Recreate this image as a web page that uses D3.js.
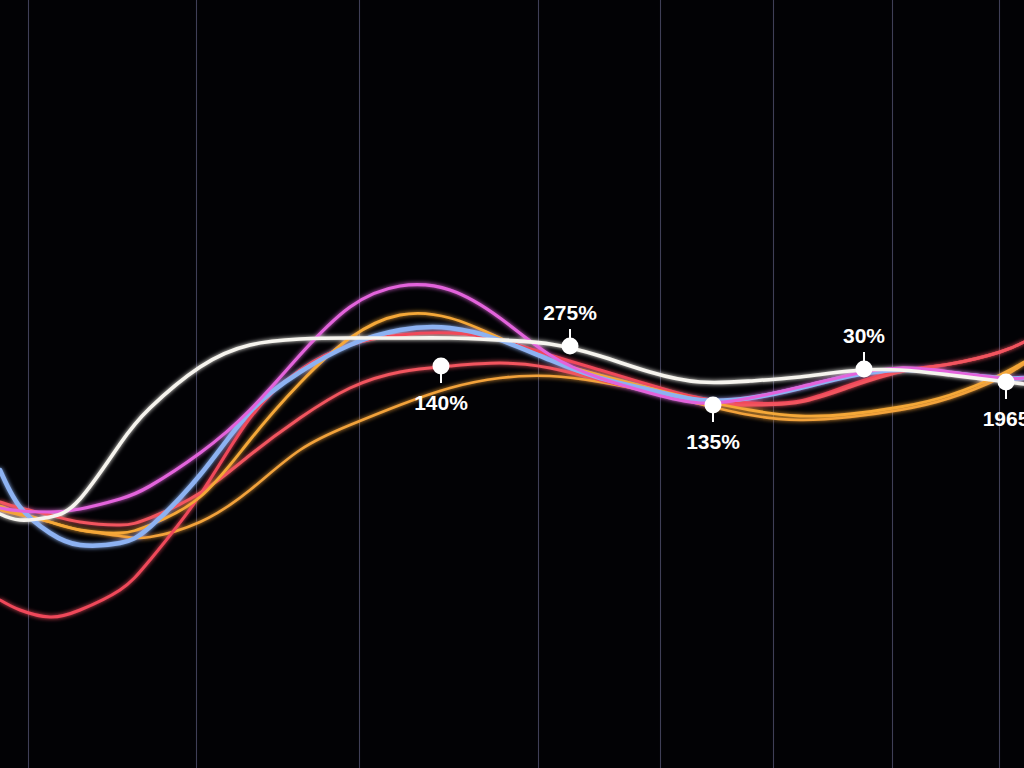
<!DOCTYPE html>
<html>
<head>
<meta charset="utf-8">
<script src="https://cdn.jsdelivr.net/npm/d3@7"></script>
<style>
  html, body { margin: 0; padding: 0; background: #000; overflow: hidden; }
  svg { display: block; }
</style>
</head>
<body>
<svg id="chart" width="1024" height="768"></svg>
<script>
// ---- data ----
const xs = [0, 2, 5, 8, 12, 15, 20, 25, 30, 35, 40, 45, 50, 55, 60, 65, 70, 75, 80, 85, 90, 95, 100, 102.4];

const redLow   = [20, 18, 16.6, 18, 22, 28, 41, 56.4, 66, 71, 73, 73.4, 72, 69, 66, 63, 60.4, 59.4, 59.8, 63, 65.8, 67.2, 69.6, 71.6];
const redMid   = [39.6, 38.4, 37, 35.6, 35, 36.4, 41.4, 49, 56.4, 62.4, 65.6, 66.8, 67.4, 66.4, 64, 61.6, 59.4, 59, 59.6, 62.6, 65.6, 67.2, 69.6, 71.6];
const orangeLow = [38, 37, 35.6, 34, 32.8, 32.6, 35.6, 42, 50, 55, 59, 62.4, 64.4, 64.8, 63.6, 61.6, 59.2, 57, 56, 56.6, 58, 60.4, 64.4, 67.2];
const orangeHigh = [38.8, 37.4, 35.6, 34, 33.4, 35, 40.6, 52, 63.4, 72.4, 77, 76.4, 72.4, 68, 65, 62.4, 60, 58, 56.8, 57.2, 58.6, 61, 65, 67.6];
const blue     = [46, 38.6, 33.4, 31, 31.4, 34.6, 45, 57.6, 65.6, 71, 74, 74.4, 72, 68, 64.4, 62, 60, 60.4, 62.4, 64.8, 66, 65.4, 64.4, 64.4];
const magenta  = [38.4, 37.8, 37.6, 38.2, 40.2, 42.8, 49.4, 58, 69, 78.6, 82.8, 82, 76.4, 69, 64.4, 61.4, 59.4, 60.4, 62.6, 65, 66.4, 65.6, 64.4, 64.4];
const white    = [37.2, 36, 36.6, 40.2, 51.2, 58.4, 66.6, 71, 72.2, 72.4, 72.4, 72.4, 72, 71.2, 68.8, 65.6, 63.6, 63.8, 64.6, 65.8, 66, 65, 63.8, 63.2];

const gridTicks = [2.8, 19.6, 35.9, 53.8, 66.0, 77.3, 89.2, 99.9];

const noteX     = [57.0, 44.1, 71.3, 86.4, 100.6];
const noteV     = [70.8, 66.8, 59.0, 66.2, 63.6];
const noteText  = ["275%", "140%", "135%", "30%", "1965"];
const noteSide  = ["above", "below", "below", "above", "below"];

// ---- chart ----
const W = 1024, H = 768;
const svg = d3.select("#chart");
svg.append("rect").attr("width", W).attr("height", H).attr("fill", "#020205");

const x = d3.scaleLinear().domain([0, 102.4]).range([0, 1024]);
const y = d3.scaleLinear().domain([0, 100]).range([700, 200]);

const defs = svg.append("defs");
const glow = defs.append("filter").attr("id", "glow")
  .attr("x", "-10%").attr("y", "-10%").attr("width", "120%").attr("height", "120%");
glow.append("feGaussianBlur").attr("stdDeviation", 2.2).attr("result", "b");
const merge = glow.append("feMerge");
merge.append("feMergeNode").attr("in", "b");
merge.append("feMergeNode").attr("in", "SourceGraphic");

// vertical grid lines via axis
const gridAxis = d3.axisBottom(x).tickValues(gridTicks).tickSize(-H).tickFormat("");
const g = svg.append("g").attr("transform", `translate(0,${H})`).call(gridAxis);
g.select(".domain").remove();
g.selectAll(".tick line").attr("stroke", "#4a4a66").attr("stroke-width", 1.1).attr("opacity", 0.85);

const series = [
  { name: "orangeLow", values: orangeLow, color: "#f2a23a", w: 2.6 },
  { name: "redLow", values: redLow, color: "#f0485a", w: 3 },
  { name: "redMid", values: redMid, color: "#f2545e", w: 3 },
  { name: "orangeHigh", values: orangeHigh, color: "#f5a838", w: 2.8 },
  { name: "blue", values: blue, color: "#8db2f2", w: 4.5 },
  { name: "magenta", values: magenta, color: "#e364dc", w: 3.2 },
  { name: "white", values: white, color: "#f6f4ee", w: 3.6 }
];

const line = d3.line()
  .x(d => x(d[0]))
  .y(d => y(d[1]))
  .curve(d3.curveNatural);

svg.append("g").attr("filter", "url(#glow)")
  .selectAll("path").data(series).join("path")
  .attr("d", s => line(xs.map((xv, i) => [xv, s.values[i]])))
  .attr("fill", "none")
  .attr("stroke", s => s.color)
  .attr("stroke-width", s => s.w)
  .attr("stroke-linecap", "round");

// annotations
const notes = noteX.map((xv, i) => ({ x: xv, v: noteV[i], t: noteText[i], side: noteSide[i] }));
const ng = svg.append("g");
const n = ng.selectAll("g").data(notes).join("g")
  .attr("transform", d => `translate(${x(d.x)},${y(d.v)})`);
n.append("line")
  .attr("x1", 0).attr("x2", 0)
  .attr("y1", d => d.side === "above" ? -4 : 4)
  .attr("y2", d => d.side === "above" ? -17 : 17)
  .attr("stroke", "#ffffff").attr("stroke-width", 2);
n.append("circle").attr("r", 8.5).attr("fill", "#ffffff");
n.append("text")
  .attr("text-anchor", "middle")
  .attr("y", d => d.side === "above" ? -26 : 44)
  .attr("fill", "#ffffff")
  .attr("font-family", "'Liberation Sans', Arial, sans-serif")
  .attr("font-weight", "bold")
  .attr("font-size", 21)
  .text(d => d.t);
</script>
</body>
</html>
